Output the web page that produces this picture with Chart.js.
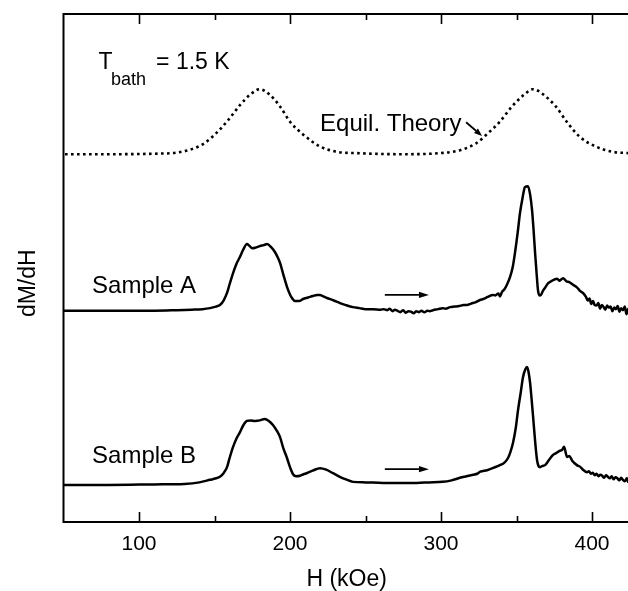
<!DOCTYPE html>
<html>
<head>
<meta charset="utf-8">
<script src="https://cdn.jsdelivr.net/npm/chart.js@4"></script>
<style>
  html, body { margin: 0; padding: 0; background: #fff; overflow: hidden; }
  canvas { display: block; }
</style>
</head>
<body>
<canvas id="c" width="636" height="591"></canvas>
<script>
// Field axis (kOe) and tick positions
const fieldMin = 50;
const fieldMax = 425;
const fieldTicks = [100, 150, 200, 250, 300, 350, 400];
const fieldLabels = [100, 200, 300, 400];

// dM/dH (arbitrary units, traces offset vertically)
const signalMin = 0;
const signalMax = 10;

// Equilibrium theory curve [H, dM/dH]
const theory = [
  [51,7.24],[80,7.24],[110,7.25],[124.6,7.27],[135,7.34],[143,7.45],[151,7.65],[159,7.91],
  [167,8.21],[173.5,8.41],[180,8.52],[186.7,8.41],[193.4,8.18],[200,7.88],[209,7.62],[220,7.39],
  [230.5,7.29],[246,7.26],[273,7.24],[299,7.26],[312.6,7.32],[323,7.45],[331,7.65],[339,7.88],
  [347,8.18],[355,8.41],[361,8.52],[368,8.41],[376,8.18],[384,7.85],[392,7.58],[402.6,7.39],
  [413,7.29],[425,7.26]
];

// Sample A, up-sweep [H, dM/dH]
const sampleA = [
  [50,4.16],[70,4.16],[90,4.16],[110,4.16],[125,4.17],[135,4.18],[142,4.19],[147,4.21],[151,4.24],
  [153.6,4.27],[156,4.36],[158.3,4.51],[160,4.68],[162.3,4.90],[164.5,5.08],[166.9,5.22],[169,5.36],
  [171.5,5.47],[173,5.44],[175,5.39],[177,5.40],[180,5.43],[182.5,5.45],[184.8,5.47],[187.5,5.41],
  [190.1,5.31],[192,5.20],[193.4,5.10],[195.5,4.88],[198,4.63],[200,4.48],[201.3,4.41],[203.3,4.35],
  [206,4.35],[208.6,4.39],[212,4.42],[215.2,4.45],[218,4.47],[219.9,4.47],[222,4.44],[224.5,4.41],
  [229,4.36],[233.1,4.31],[237,4.27],[241.7,4.23],[246,4.21],[250,4.19],[255,4.19],[260,4.18],
  [262,4.19],[264.5,4.17],[266,4.20],[268,4.15],[269.5,4.18],[271,4.16],[273,4.13],[275,4.17],
  [276.5,4.12],[278.5,4.15],[280,4.14],[282,4.11],[283.5,4.15],[285.5,4.13],[287,4.16],[289,4.13],
  [291,4.16],[292.5,4.15],[294.7,4.17],[298,4.19],[301,4.21],[303,4.20],[306,4.23],[309,4.24],
  [312,4.25],[315,4.27],[317.2,4.27],[320,4.30],[323,4.33],[325.8,4.37],[328,4.39],[331,4.43],
  [334.4,4.47],[336,4.46],[338,4.50],[339,4.44],[340.4,4.53],[342,4.58],[343.5,4.66],[345.7,4.82],
  [347.5,5.02],[349,5.30],[350.8,5.70],[352.3,6.08],[354,6.38],[355.6,6.59],[357.6,6.61],[359,6.45],
  [360.3,6.14],[361.3,5.75],[362.3,5.30],[363.3,4.90],[364.2,4.57],[365.2,4.46],[366.2,4.47],
  [367.5,4.55],[368.9,4.61],[371,4.70],[374.2,4.76],[377,4.79],[378.5,4.75],[380.8,4.80],[383,4.74],
  [385,4.72],[387.4,4.67],[390,4.62],[392,4.55],[394,4.51],[396,4.43],[397.2,4.36],[398.4,4.40],
  [399.5,4.29],[400.7,4.35],[401.8,4.27],[403,4.26],[404.2,4.31],[405.3,4.20],[406.5,4.27],
  [407.7,4.23],[408.8,4.18],[410,4.26],[411.2,4.22],[412.3,4.24],[413.5,4.15],[414.7,4.22],
  [415.8,4.19],[417,4.25],[418.2,4.14],[419.3,4.21],[420.5,4.17],[421.7,4.24],[422.8,4.09],
  [424,4.20],[425,4.14]
];

// Sample B, up-sweep [H, dM/dH]
const sampleB = [
  [50,0.73],[80,0.73],[110,0.74],[130,0.75],[140,0.78],[147,0.83],[151,0.86],[153.6,0.89],[156,0.96],
  [158.3,1.08],[160,1.26],[162.3,1.48],[164.5,1.64],[166.9,1.77],[169,1.90],[171.5,1.99],[174,2.00],
  [176.7,1.99],[180,2.00],[183.3,2.03],[186,1.99],[188.7,1.91],[191,1.81],[193.4,1.67],[195.5,1.46],
  [198,1.26],[200,1.08],[202,0.94],[204,0.90],[206.6,0.91],[209,0.94],[211,0.96],[215,1.01],
  [219.9,1.06],[224,1.03],[228.5,0.96],[233,0.89],[237,0.84],[241.7,0.79],[250,0.78],[261.6,0.77],
  [272,0.77],[284,0.77],[292,0.78],[301,0.79],[307,0.82],[312.6,0.87],[317,0.90],[321.3,0.93],
  [324,0.95],[326,0.99],[330.5,1.02],[335,1.07],[339,1.12],[342,1.17],[344.4,1.26],[346,1.38],
  [347.7,1.56],[349.5,1.85],[351,2.20],[352.8,2.55],[354.3,2.85],[355.8,3.00],[357,3.05],[358,2.95],
  [359,2.74],[360,2.42],[361,2.07],[362.3,1.60],[363.6,1.22],[364.6,1.10],[365.6,1.08],[367,1.10],
  [368.9,1.12],[371.5,1.22],[374.2,1.32],[376.5,1.36],[378.5,1.40],[380.2,1.42],[381.5,1.48],
  [383.5,1.28],[385,1.30],[387,1.20],[390,1.12],[392,1.09],[394,1.03],[396.7,0.98],[398,1.00],
  [399.3,0.95],[400.5,0.97],[401.8,0.92],[403,0.95],[404.3,0.90],[405.5,0.93],[406.8,0.91],
  [408,0.87],[409.3,0.92],[410.5,0.89],[411.8,0.86],[413,0.90],[414.3,0.84],[415.5,0.88],
  [416.8,0.86],[418,0.82],[419.3,0.87],[420.5,0.83],[421.8,0.80],[423,0.86],[424,0.79],
  [424.6,0.90],[425,0.78]
];

const FONT = '"Liberation Sans", Arial, Helvetica, sans-serif';
const toPoints = arr => arr.map(([x, y]) => ({ x, y }));

// Frame, inward ticks, y title, annotations and sweep arrows
const decorations = {
  id: 'decorations',
  afterDatasetsDraw(chart) {
    const { ctx, chartArea: a, scales: { x, y } } = chart;
    const X = v => x.getPixelForValue(v);
    const Y = v => y.getPixelForValue(v);
    ctx.save();
    ctx.strokeStyle = '#000';
    ctx.fillStyle = '#000';

    // box (right side runs off the canvas)
    ctx.lineWidth = 2;
    ctx.beginPath();
    ctx.moveTo(a.right + 10, a.top);
    ctx.lineTo(a.left, a.top);
    ctx.lineTo(a.left, a.bottom);
    ctx.lineTo(a.right + 10, a.bottom);
    ctx.stroke();

    // ticks pointing inward, top and bottom
    ctx.lineWidth = 1.6;
    ctx.beginPath();
    fieldTicks.forEach(v => {
      const px = Math.round(X(v)) + 0.5;
      const len = v % 100 === 0 ? 10 : 6;
      ctx.moveTo(px, a.bottom); ctx.lineTo(px, a.bottom - len);
      ctx.moveTo(px, a.top); ctx.lineTo(px, a.top + len);
    });
    ctx.stroke();

    // vertical axis title
    ctx.save();
    ctx.translate(a.left - 35, Y(4.7));
    ctx.rotate(-Math.PI / 2);
    ctx.textAlign = 'center';
    ctx.textBaseline = 'middle';
    ctx.font = '23px ' + FONT;
    ctx.fillText('dM/dH', 0, 0);
    ctx.restore();

    // labels
    ctx.textBaseline = 'alphabetic';
    ctx.textAlign = 'left';
    ctx.font = '23px ' + FONT;
    ctx.fillText('T', X(73.2), Y(8.91));
    ctx.fillText('= 1.5 K', X(111.3), Y(8.91));
    ctx.font = '18px ' + FONT;
    ctx.fillText('bath', X(81.5), Y(8.60));
    ctx.font = '24px ' + FONT;
    ctx.fillText('Equil. Theory', X(219.9), Y(7.70));
    ctx.fillText('Sample A', X(68.9), Y(4.51));
    ctx.fillText('Sample B', X(68.9), Y(1.16));

    const arrow = (h0, v0, h1, v1, head, half, w) => {
      const x0 = X(h0), y0 = Y(v0), x1 = X(h1), y1 = Y(v1);
      const ang = Math.atan2(y1 - y0, x1 - x0);
      const bx = x1 - head * Math.cos(ang), by = y1 - head * Math.sin(ang);
      ctx.lineWidth = w;
      ctx.beginPath(); ctx.moveTo(x0, y0); ctx.lineTo(bx, by); ctx.stroke();
      ctx.beginPath();
      ctx.moveTo(x1, y1);
      ctx.lineTo(bx + half * Math.sin(ang), by - half * Math.cos(ang));
      ctx.lineTo(bx - half * Math.sin(ang), by + half * Math.cos(ang));
      ctx.closePath(); ctx.fill();
    };
    arrow(262.8, 4.47, 292, 4.47, 10, 3.2, 1.6);
    arrow(262.8, 1.04, 292, 1.04, 10, 3.2, 1.6);
    arrow(316.6, 7.87, 327.2, 7.60, 8, 3, 1.8);
    ctx.restore();
  }
};

new Chart(document.getElementById('c'), {
  type: 'line',
  data: {
    datasets: [
      { label: 'Equil. Theory', data: toPoints(theory), borderColor: '#000', borderWidth: 2.6,
        borderDash: [2.6, 3.4], pointRadius: 0, cubicInterpolationMode: 'monotone', fill: false },
      { label: 'Sample A', data: toPoints(sampleA), borderColor: '#000', borderWidth: 2.5,
        pointRadius: 0, cubicInterpolationMode: 'monotone', fill: false },
      { label: 'Sample B', data: toPoints(sampleB), borderColor: '#000', borderWidth: 2.5,
        pointRadius: 0, cubicInterpolationMode: 'monotone', fill: false }
    ]
  },
  options: {
    responsive: false,
    animation: false,
    devicePixelRatio: 1,
    layout: { padding: { top: 14, right: 6.25, bottom: 0, left: 0 } },
    plugins: { legend: { display: false }, tooltip: { enabled: false } },
    scales: {
      x: {
        type: 'linear',
        min: fieldMin,
        max: fieldMax,
        afterFit: s => { s.height = 69; },
        grid: { display: false, drawTicks: false },
        border: { display: false },
        ticks: {
          stepSize: 50,
          includeBounds: false,
          autoSkip: false,
          maxRotation: 0,
          padding: 10,
          color: '#000',
          font: { family: FONT, size: 21 },
          callback: v => fieldLabels.includes(v) ? String(v) : ''
        },
        title: {
          display: true, text: 'H (kOe)', color: '#000',
          font: { family: FONT, size: 23, lineHeight: 1 },
          padding: { top: 0, bottom: 0 }
        }
      },
      y: {
        type: 'linear',
        min: signalMin,
        max: signalMax,
        afterFit: s => { s.width = 63.5; },
        grid: { display: false, drawTicks: false },
        border: { display: false },
        ticks: { display: false },
        title: { display: false }
      }
    }
  },
  plugins: [decorations]
});
</script>
</body>
</html>
